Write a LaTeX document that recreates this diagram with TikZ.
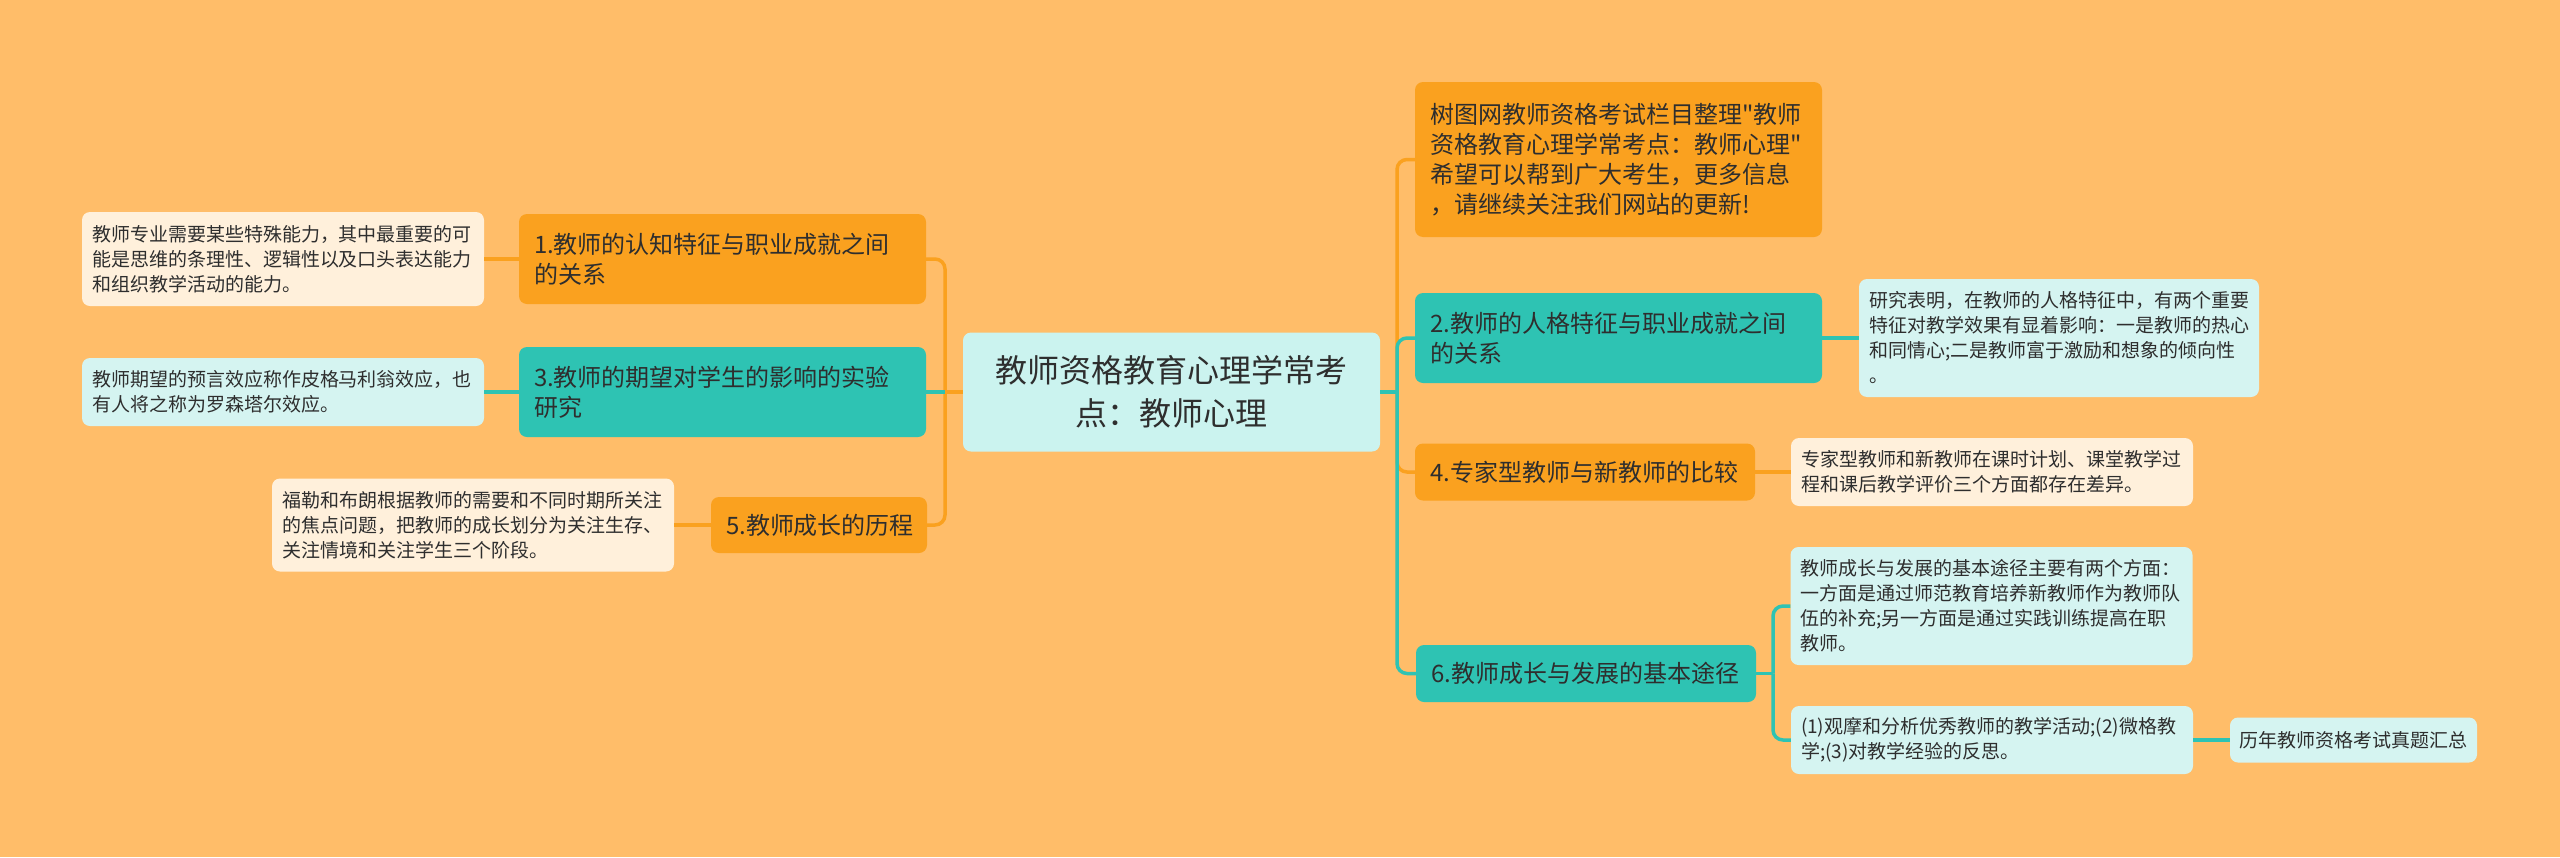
\documentclass[tikz,border=0pt]{standalone}
\usepackage{fontspec}
\setmainfont{Noto Sans CJK SC}[Ligatures=TeXOff]
\definecolor{Bg}{HTML}{FFBD69}
\definecolor{Ink}{HTML}{2E2E2E}
\definecolor{Amber}{HTML}{FAA11F}
\definecolor{Teal}{HTML}{2EC3B3}
\definecolor{RootTeal}{HTML}{CBF3EF}
\definecolor{SoftTeal}{HTML}{D5F4F1}
\definecolor{Cream}{HTML}{FFF0DB}

\begin{document}
\begin{tikzpicture}[
  x=1pt, y=-1pt,
  nodebox/.style={rounded corners=8pt, align=left, text=Ink, inner ysep=4pt},
  topic/.style={nodebox, font=\fontsize{24}{30}\selectfont, inner xsep=15pt, text width=377pt, minimum height=90pt},
  amberbox/.style={topic, fill=Amber},
  tealbox/.style={topic, fill=Teal},
  rootbox/.style={nodebox, fill=RootTeal, align=center, font=\fontsize{32}{43}\selectfont, inner xsep=13.5pt, text width=390pt, minimum height=119pt},
  leafbox/.style={nodebox, font=\fontsize{19}{25}\selectfont, inner xsep=10pt, text width=382pt},
  creamleaf/.style={leafbox, fill=Cream},
  cyanleaf/.style={leafbox, fill=SoftTeal},
  amberline/.style={draw=Amber, line width=3.5pt, rounded corners=10pt},
  tealline/.style={draw=Teal, line width=3.5pt, rounded corners=10pt}
]
\fill[Bg] (0,0) rectangle (2560,857);
\useasboundingbox (0,0) rectangle (2560,857);

\node[rootbox] (root) at (1171.5,392) {教师资格教育心理学常考\\点：教师心理};

% left side
\node[amberbox] (cog) at (722.5,259) {1.教师的认知特征与职业成就之间\\的关系};
\node[creamleaf, minimum height=94pt] (cogleaf) at (283,259) {教师专业需要某些特殊能力，其中最重要的可\\能是思维的条理性、逻辑性以及口头表达能力\\和组织教学活动的能力。};
\node[tealbox] (expect) at (722.5,392) {3.教师的期望对学生的影响的实验\\研究};
\node[cyanleaf, minimum height=68pt] (expectleaf) at (283,392) {教师期望的预言效应称作皮格马利翁效应，也\\有人将之称为罗森塔尔效应。};
\node[amberbox, text width=186pt, minimum height=56pt] (growth) at (819,525) {5.教师成长的历程};
\node[creamleaf, minimum height=93pt] (growthleaf) at (473,525) {福勒和布朗根据教师的需要和不同时期所关注\\的焦点问题，把教师的成长划分为关注生存、\\关注情境和关注学生三个阶段。};

% right side
\node[amberbox, minimum height=155pt] (intro) at (1618.5,159.5) {树图网教师资格考试栏目整理"教师\\资格教育心理学常考点：教师心理"\\希望可以帮到广大考生，更多信息\\，请继续关注我们网站的更新!};
\node[tealbox] (person) at (1618.5,338) {2.教师的人格特征与职业成就之间\\的关系};
\node[cyanleaf, text width=380pt, minimum height=118pt] (personleaf) at (2059,338) {研究表明，在教师的人格特征中，有两个重要\\特征对教学效果有显着影响：一是教师的热心\\和同情心;二是教师富于激励和想象的倾向性\\。};
\node[amberbox, text width=310pt, minimum height=57pt] (expert) at (1585,472) {4.专家型教师与新教师的比较};
\node[creamleaf, minimum height=68pt] (expertleaf) at (1992,472) {专家型教师和新教师在课时计划、课堂教学过\\程和课后教学评价三个方面都存在差异。};
\node[tealbox, text width=310pt, minimum height=57pt] (route) at (1586,673.5) {6.教师成长与发展的基本途径};
\node[cyanleaf, minimum height=118pt] (routeleafa) at (1991.5,606) {教师成长与发展的基本途径主要有两个方面：\\一方面是通过师范教育培养新教师作为教师队\\伍的补充;另一方面是通过实践训练提高在职\\教师。};
\node[cyanleaf, minimum height=68pt] (routeleafb) at (1992,740) {(1)观摩和分析优秀教师的教学活动;(2)微格教\\学;(3)对教学经验的反思。};
\node[cyanleaf, text width=229pt, inner xsep=9pt, align=center, minimum height=45pt] (exams) at (2353.5,740) {历年教师资格考试真题汇总};

\coordinate (lspine) at (945,392);
\coordinate (rspine) at (1397,392);
\coordinate (rtspine) at (1773,673.5);

% connectors
\draw[amberline] (root.west) -- (lspine);
\draw[amberline] (lspine) |- (cog.east);
\draw[amberline] (lspine) |- (growth.east);
\draw[tealline] (expect.east) -- (lspine);
\draw[amberline] (rspine) |- (intro.west);
\draw[amberline] (rspine) |- (expert.west);
\draw[tealline] (rspine) |- (person.west);
\draw[tealline] (rspine) |- (route.west);
\draw[tealline] (root.east) -- (rspine);
\draw[amberline] (cog.west) -- (cogleaf.east);
\draw[tealline] (expect.west) -- (expectleaf.east);
\draw[amberline] (growth.west) -- (growthleaf.east);
\draw[tealline] (person.east) -- (personleaf.west);
\draw[amberline] (expert.east) -- (expertleaf.west);
\draw[tealline] (route.east) -- (rtspine);
\draw[tealline] (rtspine) |- (routeleafa.west);
\draw[tealline] (rtspine) |- (routeleafb.west);
\draw[tealline] (routeleafb.east) -- (exams.west);
\end{tikzpicture}
\end{document}
